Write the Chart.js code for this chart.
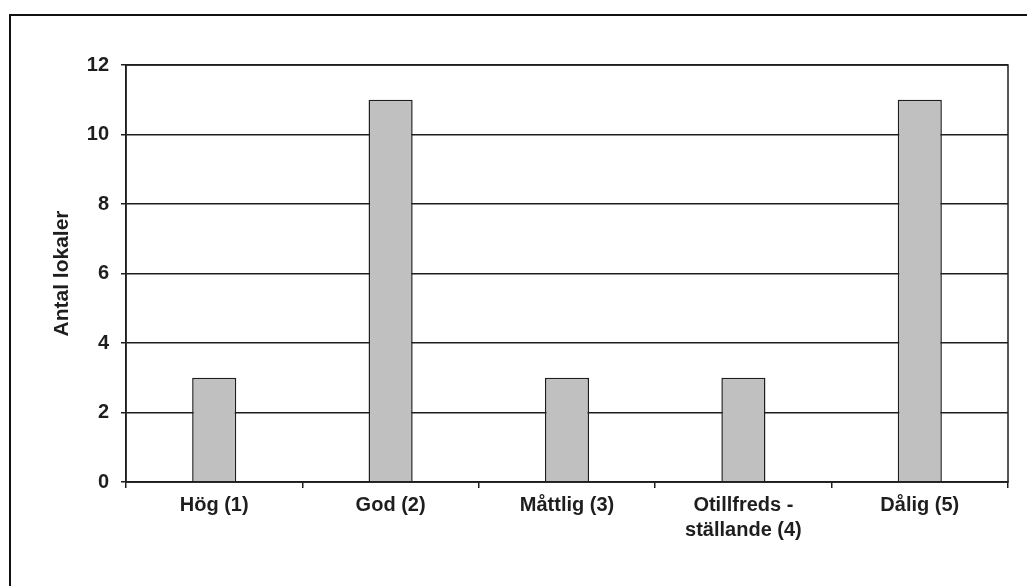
<!DOCTYPE html>
<html>
<head>
<meta charset="utf-8">
<script src="https://cdn.jsdelivr.net/npm/chart.js@4/dist/chart.umd.min.js"></script>
<style>
  html, body { margin: 0; padding: 0; background: #ffffff; }
  #wrap { width: 1027px; height: 586px; }
</style>
</head>
<body>
<div id="wrap"><canvas id="chart" width="1027" height="586"></canvas></div>
<script>
// Status classes along the x axis
const categories = ['Hög (1)', 'God (2)', 'Måttlig (3)', ['Otillfreds -', 'ställande (4)'], 'Dålig (5)'];
// Number of sites in each class
const antalLokaler = [3, 11, 3, 3, 11];
// Y axis range and step
const yMin = 0;
const yMax = 12;
const yStep = 2;

const ink = '#1e1e1e';
const family = "'Liberation Sans', Arial, sans-serif";
const font = { family: family, size: 20, weight: 'bold' };

// Frame around the whole figure and around the plot area
const frames = {
  id: 'frames',
  afterDraw(chart) {
    const ctx = chart.ctx;
    const a = chart.chartArea;
    ctx.save();
    ctx.strokeStyle = '#111';
    ctx.lineWidth = 2;
    ctx.strokeRect(10, 15, 1040, 600);
    ctx.strokeStyle = ink;
    ctx.lineWidth = 1.5;
    ctx.strokeRect(a.left, a.top, a.right - a.left, a.bottom - a.top);
    ctx.restore();
  }
};

new Chart(document.getElementById('chart'), {
  type: 'bar',
  data: {
    labels: categories,
    datasets: [{
      data: antalLokaler,
      backgroundColor: '#c0c0c0',
      borderColor: ink,
      borderWidth: 1.5,
      categoryPercentage: 1,
      barPercentage: 0.25
    }]
  },
  options: {
    responsive: false,
    animation: false,
    layout: { padding: { left: 0, right: 19, top: 65, bottom: 0 } },
    plugins: {
      legend: { display: false },
      tooltip: { enabled: false }
    },
    scales: {
      x: {
        grid: { drawOnChartArea: false, drawTicks: true, tickLength: 6, color: ink, lineWidth: 1.5 },
        border: { display: true, color: ink, width: 1.5 },
        ticks: {
          color: ink,
          font: { family: family, size: 20, weight: 'bold', lineHeight: 1.25 },
          padding: 5,
          maxRotation: 0,
          autoSkip: false
        },
        afterFit(scale) { scale.height = 104; }
      },
      y: {
        min: yMin,
        max: yMax,
        grid: { color: ink, lineWidth: 1.5, tickLength: 5 },
        border: { display: true, color: ink, width: 1.5 },
        ticks: { stepSize: yStep, color: ink, font: font, padding: 12 },
        title: {
          display: true,
          text: 'Antal lokaler',
          color: ink,
          font: { family: family, size: 21, weight: 'bold' },
          padding: { top: 50, bottom: 0 }
        },
        afterFit(scale) { scale.width = 126; }
      }
    }
  },
  plugins: [frames]
});
</script>
</body>
</html>
